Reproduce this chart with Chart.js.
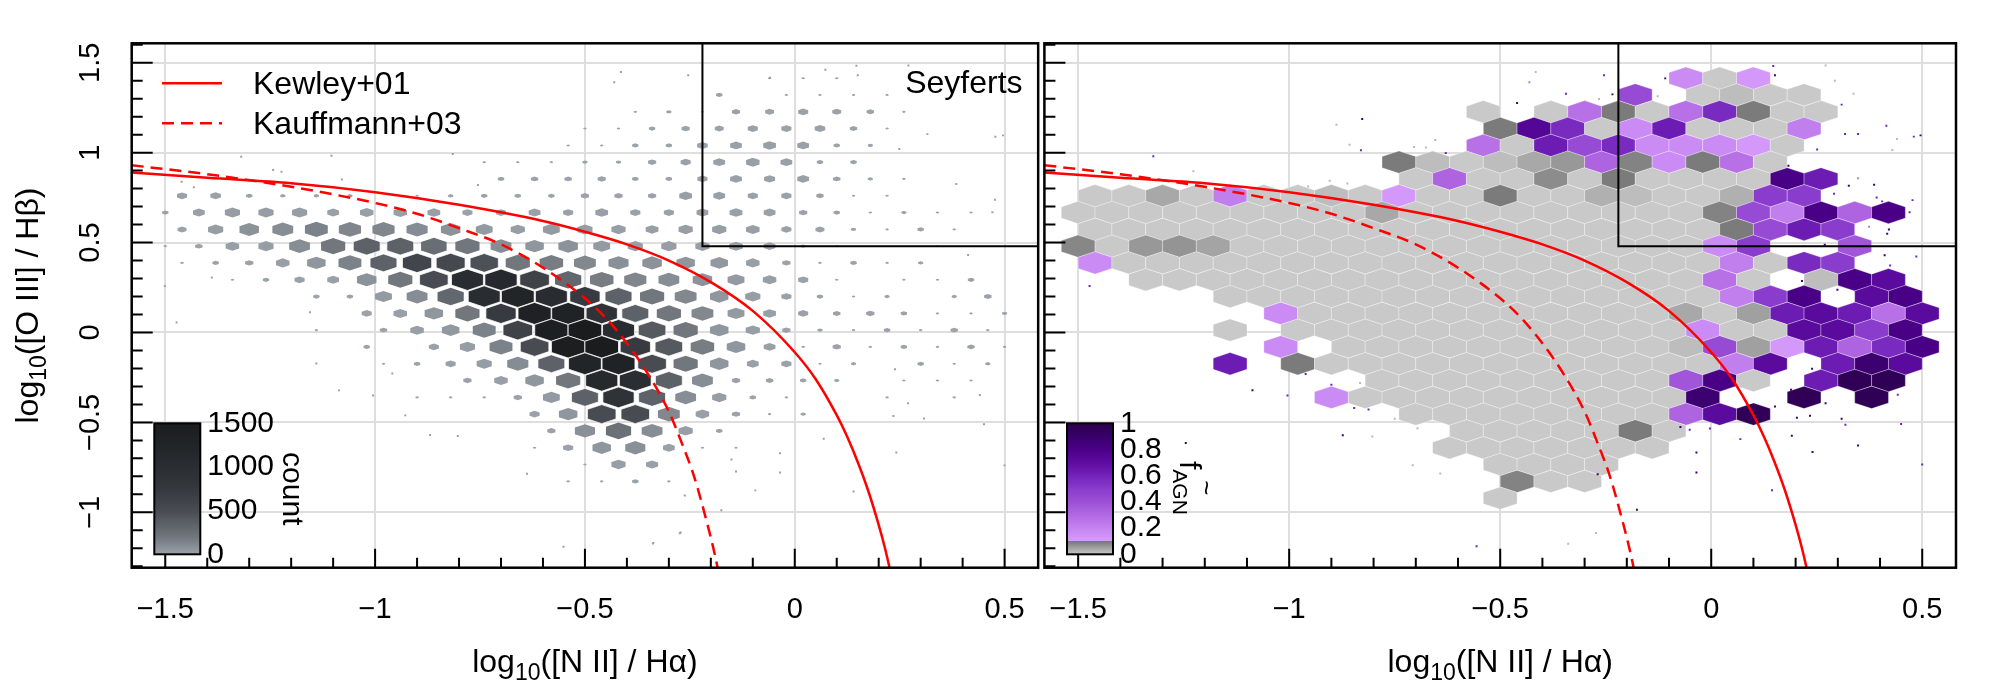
<!DOCTYPE html>
<html>
<head>
<meta charset="utf-8">
<title>BPT hexbin panels</title>
<script src="https://cdn.jsdelivr.net/npm/chart.js@4.4.1/dist/chart.umd.min.js"></script>
<style>
  html, body { margin: 0; padding: 0; background: #ffffff; }
  #wrap { position: relative; width: 2000px; height: 700px; overflow: hidden; }
  canvas { position: absolute; top: 0; }
  #leftPanel { left: 0; }
  #rightPanel { left: 1000px; }
</style>
</head>
<body>
<div id="wrap">
  <canvas id="leftPanel" width="1050" height="700"></canvas>
  <canvas id="rightPanel" width="1000" height="700"></canvas>
</div>
<script>
const FONT = '"Liberation Sans", Arial, Helvetica, sans-serif';

// axes
const X_RANGE = [-1.58, 0.58];
const Y_RANGE = [-1.308, 1.608];
const xTickValues = [-1.5, -1, -0.5, 0, 0.5];
const yTickValues = [-1, -0.5, 0, 0.5, 1, 1.5];
const countBarTicks = [0, 500, 1000, 1500];
const fracBarTicks = [0, 0.2, 0.4, 0.6, 0.8, 1];

// hexagon grid (bin width in x, row step in y)
const HEX_DX = 0.08;
const HEX_DY = 0.0934;

// demarcation curves
const kewleyX = [-1.58, -1.4, -1.2, -1.0, -0.8, -0.6, -0.5, -0.4, -0.3, -0.2, -0.1, 0.0, 0.05, 0.1, 0.125, 0.15, 0.175, 0.2, 0.215, 0.23];
const kewleyY = [0.89, 0.86, 0.83, 0.78, 0.71, 0.62, 0.56, 0.49, 0.40, 0.28, 0.12, -0.11, -0.26, -0.46, -0.58, -0.72, -0.88, -1.07, -1.20, -1.35];
const kauffX = [-1.58, -1.4, -1.2, -1.0, -0.9, -0.8, -0.7, -0.6, -0.5, -0.45, -0.4, -0.35, -0.3, -0.27, -0.24, -0.21, -0.19, -0.17];
const kauffY = [0.93, 0.88, 0.81, 0.72, 0.66, 0.58, 0.49, 0.36, 0.19, 0.08, -0.06, -0.23, -0.44, -0.61, -0.80, -1.05, -1.24, -1.47];
const seyfertX = -0.22;
const seyfertY = 0.48;

// left panel: galaxy counts per hexagon, one array per row
const leftRowY = [1.414, 1.321, 1.227, 1.134, 1.040, 0.947, 0.854, 0.760, 0.667, 0.573, 0.480, 0.387, 0.293, 0.200, 0.106, 0.013, -0.080, -0.174, -0.267, -0.361, -0.454, -0.547, -0.641, -0.734, -0.828];
const leftRowX0 = [-0.06, -0.18, -0.38, -0.50, -0.54, -0.74, -0.70, -1.46, -1.50, -1.46, -1.50, -1.46, -1.34, -1.14, -1.02, -1.14, -1.02, -0.98, -0.78, -0.90, -0.62, -0.58, -0.62, -0.50, -0.54];
const leftCounts = [
  [1, 1, 1],
  [3, null, 1, 1, 1, 1],
  [1, 2, 1, 5, 6, 8, 6, 4, 1],
  [1, 1, 3, 5, 6, 8, 8, 9, 4, 1],
  [1, 1, 3, 3, 9, 12, 15, 12, 3, 2],
  [1, 1, 1, 2, 2, 5, 8, 12, 18, 12, 3, 3],
  [3, 4, 4, 5, 3, 3, 8, 12, 10, 12, 4, 2, 1],
  [8, 9, 3, 2, 2, 2, null, 1, 2, 3, 3, 3, 5, 5, 5, 15, 12, 8, 8, 4, 1, 1],
  [3, 12, 26, 26, 26, 12, 18, 18, 15, 8, 8, 12, 8, 15, 8, 8, 12, 15, 12, 5, 3, 1, 2, 1, 1],
  [6, 26, 69, 92, 145, 124, 124, 99, 69, 38, 21, 38, 26, 21, 15, 21, 21, 18, 8, 6, 2, 1, 3, 1],
  [1, 4, 18, 26, 92, 193, 348, 348, 259, 193, 92, 55, 69, 38, 26, 26, 21, 18, 12, 2, 1, null, null, 1],
  [1, 3, 5, 18, 55, 145, 348, 580, 545, 470, 193, 166, 115, 79, 69, 55, 44, 18, 5, 1, 3, 1, 2],
  [1, 3, 8, 12, 69, 193, 502, 1040, 1120, 622, 301, 166, 124, 92, 69, 38, 18, 8, 1, null, 1, 1, 3],
  [3, 3, 38, 92, 301, 1040, 1250, 1040, 720, 348, 193, 115, 55, 26, 8, 3, 1, 2, null, 2, 4],
  [8, 18, 55, 193, 720, 1350, 1300, 900, 348, 193, 115, 38, 15, 8, 4, 5, 3, 1, 1, 2],
  [1, null, 4, 18, 44, 145, 622, 1400, 1500, 1040, 405, 193, 55, 21, 5, 2, 1, 3, 1, 4, 1],
  [3, null, 8, 26, 145, 502, 1450, 1500, 720, 405, 166, 55, 12, 1, 5, 1, 3, 1, 4, 1],
  [1, 3, 8, 26, 99, 348, 1250, 1300, 502, 193, 55, 12, 8, 1, 2, null, 3, 1, 2],
  [5, 18, 55, 193, 1100, 1000, 348, 92, 5, 4, 3, 2, null, 1, 1, 1],
  [1, 1, 1, 5, 38, 348, 900, 348, 92, 21, 3, 1, null, null, 1, null, 1],
  [8, 55, 502, 502, 115, 18, 5, 1, 2],
  [5, 79, 241, 92, 21, 3],
  [1, 8, 55, 79, 12, 1, 1],
  [1, 21, 13],
  [1, 1, 3, 1]
];

// right panel: AGN fraction per hexagon
const rightRowY = [1.414, 1.321, 1.227, 1.134, 1.040, 0.947, 0.854, 0.760, 0.667, 0.573, 0.480, 0.387, 0.293, 0.200, 0.106, 0.013, -0.080, -0.174, -0.267, -0.361, -0.454, -0.547, -0.641, -0.734, -0.828, -0.921];
const rightRowX0 = [-0.06, -0.18, -0.54, -0.50, -0.54, -0.74, -0.70, -1.46, -1.50, -1.46, -1.50, -1.46, -1.34, -1.14, -1.02, -1.14, -1.02, -1.14, -0.78, -0.90, -0.70, -0.58, -0.62, -0.50, -0.46, -0.50];
const rightFrac = [
  [0.17, 0, 0.12],
  [0.43, null, 0, 0.015, 0, 0],
  [0, null, 0, 0.27, 0.095, 0, 0.27, 0.57, 0.095, 0, 0],
  [0.095, 0.75, 0.57, 0, 0.17, 0.63, 0, 0, 0, 0.22],
  [0.27, 0, 0.63, 0.43, 0.57, 0.17, 0.17, 0.17, 0.12, 0],
  [0.095, 0.015, 0, 0.015, 0.04, 0.06, 0.32, 0.085, 0.17, 0.095, 0.27, 0],
  [0, 0.32, 0, 0, 0.075, 0, 0.095, 0, 0, 0, 0, 0.8, 0.63],
  [0, 0, 0.04, 0, 0.22, 0, 0, 0.015, 0, 0.12, 0, 0, 0.095, 0, 0, 0.03, 0.015, 0, 0, 0.03, 0.5, 0.5],
  [0, 0, 0, 0, 0, 0, 0, 0, 0, 0.04, 0, 0, 0, 0, 0, 0, 0, 0, 0, 0.085, 0.43, 0.22, 0.8, 0.32, 0.8],
  [0, 0, 0, 0, 0, 0, 0, 0, 0, 0, 0, 0, 0, 0, 0, 0, 0, 0, 0, 0.095, 0.43, 0.63, 0.5],
  [0.08, 0, 0.06, 0.065, 0.045, 0, 0, 0, 0, 0, 0, 0, 0, 0, 0, 0, 0, 0, 0, 0.17, 0.5, null, null, 0.38],
  [0.17, 0, 0, 0, 0, 0, 0, 0, 0, 0, 0, 0, 0, 0, 0, 0, 0, 0, 0, 0.22, 0, 0.57, 0.5],
  [0, 0, 0, 0, 0, 0, 0, 0, 0, 0, 0, 0, 0, 0, 0, 0, 0, 0.27, 0, null, 0.015, 0.8, 0.72],
  [0, 0, 0, 0, 0, 0, 0, 0, 0, 0, 0, 0, 0, 0, 0, 0.22, 0.5, 0.8, null, 0.72, 0.8],
  [0.17, 0, 0, 0, 0, 0, 0, 0, 0, 0, 0, 0, 0.04, 0, 0.05, 0.63, 0.72, 0.63, 0.27, 0.72],
  [0, null, 0, 0, 0, 0, 0, 0, 0, 0, 0, 0, 0, 0, 0.17, 0, 0, 0.72, 0.72, 0.5, 0.8],
  [0.17, null, 0, 0, 0, 0, 0, 0, 0, 0, 0, 0, 0.015, 0.43, 0.05, 0.12, 0.63, 0.32, 0.57, 0.8],
  [0.63, null, 0.095, 0, 0, 0, 0, 0, 0, 0, 0, 0, 0, 0, 0, 0.22, 0.72, null, 0.63, 0.88, 0.72],
  [0, 0, 0, 0, 0, 0, 0, 0, 0, 0.38, 0.8, 0, null, 0.63, 0.96, 0.96],
  [0.17, 0, 0, 0, 0, 0, 0, 0, 0, 0, 0, 0.88, null, null, 0.96, null, 0.96],
  [0, 0, 0, 0, 0, 0, 0, 0, 0.32, 0.72, 0.96],
  [0, 0, 0, 0, 0, 0.095, 0],
  [0, 0, 0, 0, 0, 0, 0],
  [0, 0, 0, 0],
  [0.085, 0, 0],
  [0]
];

// single galaxies drawn as dots outside the bins
const leftPoints = [
  [-1.319, 0.977], [-1.104, 0.983], [-0.815, 0.992], [-1.243, 0.903], [-1.223, 0.894], [-1.461, 0.838],
  [-1.432, 0.807], [-1.079, 0.851], [-0.755, 0.820], [-1.389, 0.306], [-1.501, 0.258], [-1.473, 0.056],
  [-1.155, 0.112], [-1.140, -0.172], [-0.959, -0.228], [-1.086, -0.322], [-1.005, -0.351], [-0.928, -0.461],
  [-0.869, -0.570], [-0.803, -0.576], [-0.638, -0.785], [-0.551, -1.192], [-0.337, -1.170], [-0.272, -1.112],
  [-0.414, 1.448], [-0.430, 1.391], [-0.254, 1.430], [0.147, 1.483], [0.073, 1.461], [0.271, 1.485],
  [0.150, 1.430], [-0.059, 1.417], [0.316, 1.103], [0.478, 1.088], [0.496, 1.096], [0.249, 1.020],
  [0.385, 0.825], [0.477, 0.738], [0.471, 0.668], [0.413, 0.431], [0.239, -0.204], [0.270, -0.394],
  [0.441, -0.348], [0.235, -0.465], [0.308, -0.478], [0.451, -0.510], [0.069, -0.591], [-0.035, -0.672],
  [-0.151, -0.706], [-0.140, -0.773], [-0.035, -0.778], [0.242, -0.667], [0.500, -0.739], [-0.094, -0.878],
  [0.140, -0.884], [-0.262, -0.906], [-0.175, -0.989], [-0.274, -1.117], [-0.338, -1.173]
];
const rightPoints = [
  [-0.827, 1.187, 0.9], [-0.431, 1.391, 0.25], [-0.416, 1.448, 0.02], [-0.254, 1.430, 0.6], [-0.234, 1.324, 0.9],
  [-0.344, 1.328, 0.6], [-0.460, 1.276, 0.9], [-0.266, 1.298, 0.02], [-0.127, 1.313, 0.02], [-0.109, 1.413, 0.9],
  [0.147, 1.482, 0.6], [0.151, 1.430, 0.9], [0.271, 1.485, 0.02], [0.293, 1.400, 0.02], [0.337, 1.328, 0.02],
  [0.309, 1.267, 0.6], [0.415, 1.150, 0.6], [0.317, 1.104, 0.6], [0.348, 1.104, 0.6], [0.440, 1.076, 0.02],
  [0.480, 1.089, 0.6], [0.496, 1.096, 0.9], [0.429, 1.015, 0.02], [0.251, 1.018, 0.6], [0.183, 0.927, 0.9],
  [0.348, 0.857, 0.25], [0.326, 0.816, 0.9], [0.386, 0.822, 0.9], [0.291, 0.772, 0.6], [0.392, 0.751, 0.6],
  [0.405, 0.729, 0.6], [0.477, 0.736, 0.6], [0.470, 0.668, 0.6], [0.374, 0.588, 0.25], [0.421, 0.573, 0.9],
  [0.417, 0.549, 0.9], [0.411, 0.430, 0.9], [0.424, 0.373, 0.6], [0.486, 0.423, 0.6], [0.215, 0.286, 0.9],
  [0.299, 0.238, 0.9], [0.269, 0.488, 0.9], [0.239, -0.202, 0.9], [0.189, -0.318, 0.9], [0.271, -0.393, 0.9],
  [0.442, -0.346, 0.6], [0.151, -0.411, 0.9], [0.203, -0.474, 0.9], [0.234, -0.463, 0.9], [0.309, -0.480, 0.9],
  [0.318, -0.513, 0.6], [0.450, -0.509, 0.6], [0.191, -0.574, 0.9], [0.069, -0.593, 0.6], [-0.003, -0.534, 0.6],
  [-0.051, -0.541, 0.6], [-0.073, -0.526, 0.9], [-0.830, 1.013, 0.6], [-0.629, 0.998, 0.6], [-0.888, 1.155, 0.02],
  [-0.857, 1.044, 0.02], [-0.704, 1.031, 0.02], [-0.676, 1.029, 0.02], [-0.654, 1.070, 0.02], [-0.904, 0.844, 0.02],
  [-0.862, 0.829, 0.02], [-0.955, 0.812, 0.02], [-0.873, -0.571, 0.9], [-0.961, -0.231, 0.6], [-0.900, -0.291, 0.6],
  [-0.846, -0.420, 0.6], [-0.812, -0.428, 0.6], [-0.832, -0.281, 0.02], [-0.803, -0.578, 0.02], [-0.696, -0.532, 0.02],
  [-0.750, -0.480, 0.02], [0.348, -0.629, 0.9], [0.240, -0.664, 0.9], [-0.035, -0.668, 0.9], [-0.035, -0.778, 0.9],
  [0.144, -0.877, 0.6], [0.500, -0.734, 0.6], [-0.176, -0.986, 0.9], [-0.273, -1.115, 0.02], [-0.556, -1.189, 0.6],
  [-0.339, -1.175, 0.02], [-0.269, -0.788, 0.9], [-1.245, -0.615, 0.9], [-1.087, -0.321, 0.9], [-1.004, -0.351, 0.6],
  [-0.707, -0.738, 0.02], [-0.642, -0.784, 0.02], [-1.473, 0.259, 0.6], [-1.322, 0.980, 0.6], [-1.227, 0.896, 0.02]
];

// colour ramps
const countStops = [[0, '#9da3ab'], [0.05, '#8b9198'], [0.13, '#72777e'], [0.23, '#5d6268'], [0.33, '#494d53'],
  [0.5, '#35383d'], [0.67, '#2a2d31'], [0.85, '#212427'], [1, '#1a1c1e']];
const grayStops = [[0, '#c9c9c9'], [0.1, '#777777']];
const purpleStops = [[0.1, '#d89cfc'], [0.2, '#c583f0'], [0.3, '#b268e2'], [0.4, '#9d50d6'], [0.5, '#8a3ccc'],
  [0.6, '#7222ba'], [0.7, '#5e0ca2'], [0.8, '#4a0086'], [0.9, '#38006a'], [1, '#2a004a']];

function hexToRgb(h) {
  const n = parseInt(h.slice(1), 16);
  return [n >> 16, (n >> 8) & 255, n & 255];
}
function ramp(stops, t) {
  t = Math.max(stops[0][0], Math.min(stops[stops.length - 1][0], t));
  for (let i = 1; i < stops.length; i++) {
    if (t <= stops[i][0]) {
      const a = hexToRgb(stops[i - 1][1]), b = hexToRgb(stops[i][1]);
      const u = (t - stops[i - 1][0]) / (stops[i][0] - stops[i - 1][0]);
      return 'rgb(' + a.map((v, k) => Math.round(v + (b[k] - v) * u)).join(',') + ')';
    }
  }
  return stops[stops.length - 1][1];
}
const countColor = c => ramp(countStops, c / 1500);
const countSize = c => Math.min(1, Math.log(c + 1) / Math.log(1501));
const fracColor = f => (f < 0.1 ? ramp(grayStops, f) : ramp(purpleStops, f));

function buildCells(rowY, rowX0, rows) {
  const cells = [];
  rows.forEach((vals, r) => {
    vals.forEach((v, i) => {
      if (v === null) return;
      cells.push({ x: +(rowX0[r] + i * HEX_DX).toFixed(3), y: rowY[r], v: v });
    });
  });
  return cells;
}

const minus = v => String(v).replace('-', '\u2212');

function drawRich(ctx, parts, x, y) {
  let w = 0;
  parts.forEach(p => { ctx.font = p[1] + 'px ' + FONT; w += ctx.measureText(p[0]).width; });
  let cx = x - w / 2;
  parts.forEach(p => {
    ctx.font = p[1] + 'px ' + FONT;
    ctx.fillText(p[0], cx, y + p[2]);
    cx += ctx.measureText(p[0]).width;
  });
}

function decor(p) {
  return {
    id: 'bptDecor',
    beforeDatasetsDraw(chart) {
      const { ctx, chartArea: ca, scales: { x, y } } = chart;
      const cells = chart.data.datasets[4].data;
      ctx.save();
      ctx.beginPath();
      ctx.rect(ca.left, ca.top, ca.width, ca.height);
      ctx.clip();
      cells.forEach(c => {
        const s = p.hexSize(c.v);
        const hw = HEX_DX / 2 * s, hh = HEX_DY * 2 / 3 * s;
        ctx.beginPath();
        [[0, hh], [hw, hh / 2], [hw, -hh / 2], [0, -hh], [-hw, -hh / 2], [-hw, hh / 2]].forEach(([dx, dy], i) => {
          const px = x.getPixelForValue(c.x + dx), py = y.getPixelForValue(c.y + dy);
          if (i) ctx.lineTo(px, py); else ctx.moveTo(px, py);
        });
        ctx.closePath();
        ctx.fillStyle = p.hexColor(c.v);
        ctx.fill();
        if (s > 0.8) {
          ctx.strokeStyle = p.hexStroke;
          ctx.lineWidth = 1;
          ctx.stroke();
        }
      });
      ctx.restore();
    },
    afterDatasetsDraw(chart) {
      const { ctx, chartArea: ca, scales: { x, y } } = chart;
      ctx.save();
      // inward ticks
      ctx.strokeStyle = '#000';
      ctx.lineWidth = 2;
      ctx.beginPath();
      for (let i = Math.ceil(x.min * 10); i <= Math.floor(x.max * 10); i++) {
        const px = x.getPixelForValue(i / 10);
        ctx.moveTo(px, ca.bottom);
        ctx.lineTo(px, ca.bottom - (i % 5 === 0 ? 19 : 10));
      }
      for (let i = Math.ceil(y.min * 10); i <= Math.floor(y.max * 10); i++) {
        const py = y.getPixelForValue(i / 10);
        ctx.moveTo(ca.left, py);
        ctx.lineTo(ca.left + (i % 5 === 0 ? 21 : 11), py);
      }
      ctx.stroke();
      ctx.lineWidth = 2.5;
      ctx.strokeRect(ca.left, ca.top, ca.width, ca.height);

      // colour bar
      const cb = { l: ca.left + 22.6, r: ca.left + 68.6, t: ca.bottom - 144.4, b: ca.bottom - 13.4 };
      ctx.save();
      ctx.beginPath();
      ctx.rect(cb.l, cb.t, cb.r - cb.l, cb.b - cb.t);
      ctx.clip();
      for (let py = Math.floor(cb.t); py < cb.b; py++) {
        const t = (cb.b - (py + 0.5)) / (cb.b - cb.t);
        ctx.fillStyle = p.barColor(t * p.barMax);
        ctx.fillRect(cb.l, py, cb.r - cb.l, 1);
      }
      ctx.restore();
      ctx.lineWidth = 2;
      ctx.strokeRect(cb.l, cb.t, cb.r - cb.l, cb.b - cb.t);
      ctx.fillStyle = '#000';
      ctx.font = '30px ' + FONT;
      ctx.textAlign = 'left';
      ctx.textBaseline = 'middle';
      p.barTicks.forEach(v => {
        ctx.fillText(String(v), cb.r + 7, cb.b - v / p.barMax * (cb.b - cb.t));
      });
      ctx.save();
      if (p.barTitle === 'count') {
        ctx.translate(ca.left + 151.5, (cb.t + cb.b) / 2);
        ctx.rotate(Math.PI / 2);
        ctx.textAlign = 'center';
        ctx.textBaseline = 'alphabetic';
        ctx.font = '30px ' + FONT;
        ctx.fillText('count', 0, 0);
      } else {
        ctx.translate(ca.left + 135.6, cb.t + 37.7);
        ctx.rotate(Math.PI / 2);
        ctx.textAlign = 'left';
        ctx.textBaseline = 'alphabetic';
        ctx.font = '30px ' + FONT;
        ctx.fillText('f', 0, 0);
        const fw = ctx.measureText('f').width;
        ctx.font = '26px ' + FONT;
        ctx.fillText('~', fw + 11, -18);
        ctx.font = '21px ' + FONT;
        ctx.fillText('AGN', fw, 7);
      }
      ctx.restore();

      // legend (left panel only)
      if (p.legend) {
        [0, 1].forEach(i => {
          const ds = chart.data.datasets[i];
          const ly = ca.top + 40 + i * 40;
          ctx.save();
          ctx.strokeStyle = ds.borderColor;
          ctx.lineWidth = ds.borderWidth;
          ctx.setLineDash(ds.borderDash || []);
          ctx.beginPath();
          ctx.moveTo(ca.left + 30.3, ly);
          ctx.lineTo(ca.left + 90.3, ly);
          ctx.stroke();
          ctx.restore();
          ctx.fillStyle = '#000';
          ctx.font = '32px ' + FONT;
          ctx.textAlign = 'left';
          ctx.textBaseline = 'middle';
          ctx.fillText(ds.label, ca.left + 121.3, ly + 1.5);
        });
        ctx.textAlign = 'right';
        ctx.fillText(chart.data.datasets[2].label, ca.right - 15.6, ca.top + 41);
      }
      ctx.restore();
    },
    afterDraw(chart) {
      const { ctx, chartArea: ca } = chart;
      ctx.save();
      ctx.fillStyle = '#000';
      ctx.textAlign = 'left';
      ctx.textBaseline = 'alphabetic';
      drawRich(ctx, [['log', 32, 0], ['10', 23, 8], ['([N II] / H\u03b1)', 32, 0]], (ca.left + ca.right) / 2, 672);
      if (p.yTitle) {
        ctx.translate(38, (ca.top + ca.bottom) / 2);
        ctx.rotate(-Math.PI / 2);
        drawRich(ctx, [['log', 32, 0], ['10', 23, 8], ['([O III] / H\u03b2)', 32, 0]], 0, 0);
      }
      ctx.restore();
    }
  };
}

function makePanel(canvasId, p) {
  const gridOpts = { color: '#dedede', lineWidth: 2, drawTicks: false };
  const tickFont = { family: FONT, size: 29 };
  return new Chart(document.getElementById(canvasId), {
    type: 'scatter',
    data: {
      datasets: [
        { label: 'Kewley+01', data: kewleyX.map((v, i) => ({ x: v, y: kewleyY[i] })), showLine: true,
          borderColor: '#ff0000', borderWidth: 2.5, pointRadius: 0, cubicInterpolationMode: 'monotone', order: 1 },
        { label: 'Kauffmann+03', data: kauffX.map((v, i) => ({ x: v, y: kauffY[i] })), showLine: true,
          borderColor: '#ff0000', borderWidth: 2.5, borderDash: [12, 7], pointRadius: 0, cubicInterpolationMode: 'monotone', order: 2 },
        { label: 'Seyferts', data: [{ x: seyfertX, y: 2 }, { x: seyfertX, y: seyfertY }, { x: 1, y: seyfertY }], showLine: true,
          borderColor: '#000000', borderWidth: 2, pointRadius: 0, order: 3 },
        { label: 'galaxies', data: p.points, pointStyle: 'rect', pointRadius: 1.4, borderWidth: 0,
          backgroundColor: p.pointColor, order: 4 },
        { label: 'hexbins', data: p.cells, pointRadius: 0, order: 5 }
      ]
    },
    options: {
      responsive: false,
      animation: false,
      devicePixelRatio: 1,
      events: [],
      layout: { padding: p.padding },
      plugins: { legend: { display: false }, tooltip: { enabled: false } },
      scales: {
        x: {
          type: 'linear', min: X_RANGE[0], max: X_RANGE[1],
          afterBuildTicks: s => { s.ticks = xTickValues.map(v => ({ value: v })); },
          afterFit: s => { s.height = 132.3; },
          grid: gridOpts,
          border: { display: false },
          ticks: { color: '#000', font: tickFont, padding: 25, maxRotation: 0, autoSkip: false, callback: v => minus(v) }
        },
        y: {
          type: 'linear', min: Y_RANGE[0], max: Y_RANGE[1],
          afterBuildTicks: s => { s.ticks = yTickValues.map(v => ({ value: v })); },
          afterFit: s => { s.width = p.yWidth; },
          grid: gridOpts,
          border: { display: false },
          ticks: { display: p.yLabels, color: '#000', font: tickFont, minRotation: 90, maxRotation: 90,
            crossAlign: 'center', padding: 12, autoSkip: false, callback: v => minus(v) }
        }
      }
    },
    plugins: [decor(p)]
  });
}

makePanel('leftPanel', {
  cells: buildCells(leftRowY, leftRowX0, leftCounts),
  points: leftPoints.map(([x, y]) => ({ x, y })),
  pointColor: '#9aa0a8',
  hexSize: countSize,
  hexColor: countColor,
  hexStroke: 'rgba(255,255,255,0.75)',
  barColor: countColor,
  barMax: 1500,
  barTicks: countBarTicks,
  barTitle: 'count',
  legend: true,
  yTitle: true,
  yLabels: true,
  yWidth: 131.7,
  padding: { top: 43.3, right: 6.7, left: 0, bottom: 0 }
});

makePanel('rightPanel', {
  cells: buildCells(rightRowY, rightRowX0, rightFrac),
  points: rightPoints.map(([x, y, f]) => ({ x, y, f })),
  pointColor: c => (c.raw ? fracColor(c.raw.f) : '#000'),
  hexSize: () => 1,
  hexColor: fracColor,
  hexStroke: 'rgba(255,255,255,0.3)',
  barColor: fracColor,
  barMax: 1,
  barTicks: fracBarTicks,
  barTitle: 'fAGN',
  legend: false,
  yTitle: false,
  yLabels: false,
  yWidth: 44.4,
  padding: { top: 43.3, right: 44, left: 0, bottom: 0 }
});
</script>
</body>
</html>
